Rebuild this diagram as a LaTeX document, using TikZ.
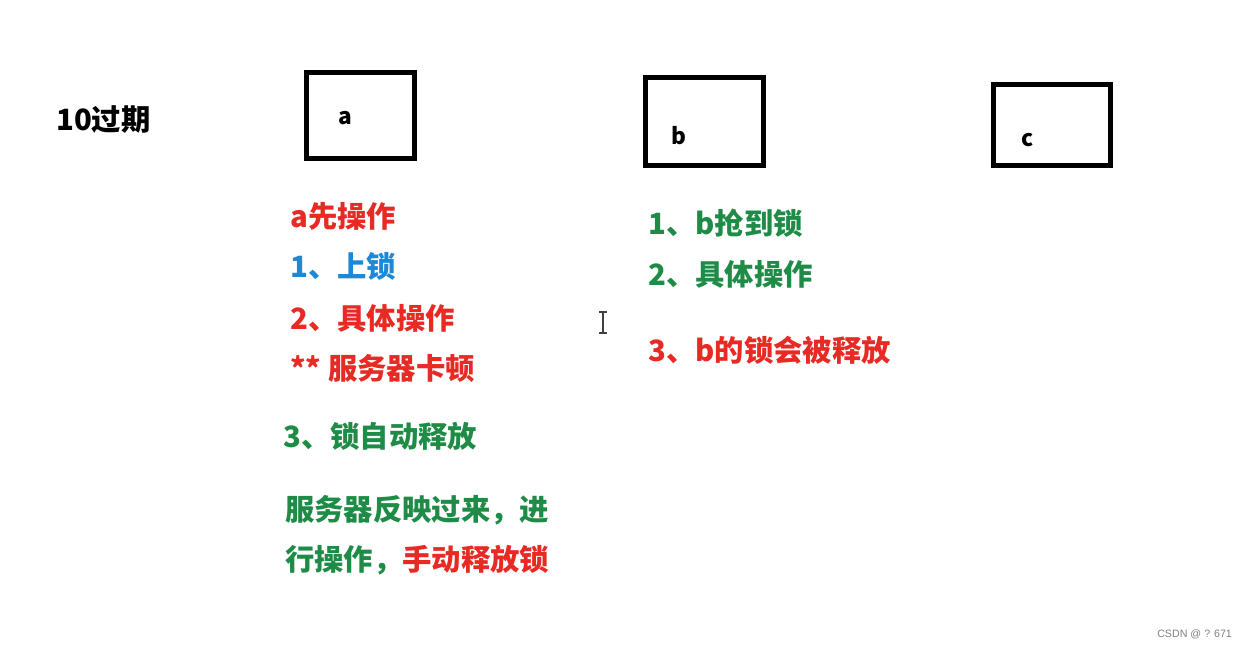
\documentclass[tikz,border=0pt]{standalone}
\usepackage{fontspec}
\setmainfont{Noto Sans CJK SC}
\newfontfamily\marca{Liberation Sans}
\definecolor{rojo}{RGB}{232,42,36}
\definecolor{azul}{RGB}{28,136,214}
\definecolor{verde}{RGB}{30,140,70}
\tikzset{
  caja/.style={draw=black, line width=3.8pt},
  texto/.style={anchor=west, inner sep=0pt, font=\fontsize{22}{26}\selectfont\bfseries},
  letra/.style={inner sep=0pt, font=\fontsize{17}{20}\selectfont\bfseries}
}
\begin{document}
\begin{tikzpicture}[x=0.75pt,y=-0.75pt]
            \useasboundingbox[fill=white] (0,0) rectangle (1248,648);
            % Titulo
            \node[texto] (titulo) at (56,120) {10过期};
            % Cajas
            \draw[caja] (306.5,72.5) rectangle (414.5,158.5);
            \node[letra] (a) at (345,118) {a};
            \draw[caja] (645.5,77.5) rectangle (763.5,165.5);
            \node[letra] (b) at (679,136) {b};
            \draw[caja] (993.5,84.5) rectangle (1110.5,165.5);
            \node[letra] (c) at (1028,140) {c};
            % Pasos de a
            \node[texto,rojo] (a0) at (290,216) {a先操作};
            \node[texto,azul] (a1) at (290,266) {1、上锁};
            \node[texto,rojo] (a2) at (290,318) {2、具体操作};
            \node[texto,rojo] (a3) at (290,368) {** 服务器卡顿};
            \node[texto,verde] (a4) at (283,436) {3、锁自动释放};
            \node[texto,verde] (a5) at (285,510) {服务器反映过来，进};
            \node[texto,verde] (a6) at (285,560) {行操作，\textcolor{rojo}{手动释放锁}};
            % Pasos de b
            \node[texto,verde] (b1) at (648,223) {1、b抢到锁};
            \node[texto,verde] (b2) at (648,274) {2、具体操作};
            \node[texto,rojo] (b3) at (648,350) {3、b的锁会被释放};
            % Cursor
            \draw[line width=1.2pt,black!75] (603,312) -- (603,333)
                (599,312) -- (607,312) (599,333) -- (607,333);
            % Marca de agua
            \node[anchor=west,inner sep=0pt,gray,font=\marca\fontsize{8}{9}\selectfont] (marca) at (1157,634) {CSDN @ ? 671};
\end{tikzpicture}
\end{document}
